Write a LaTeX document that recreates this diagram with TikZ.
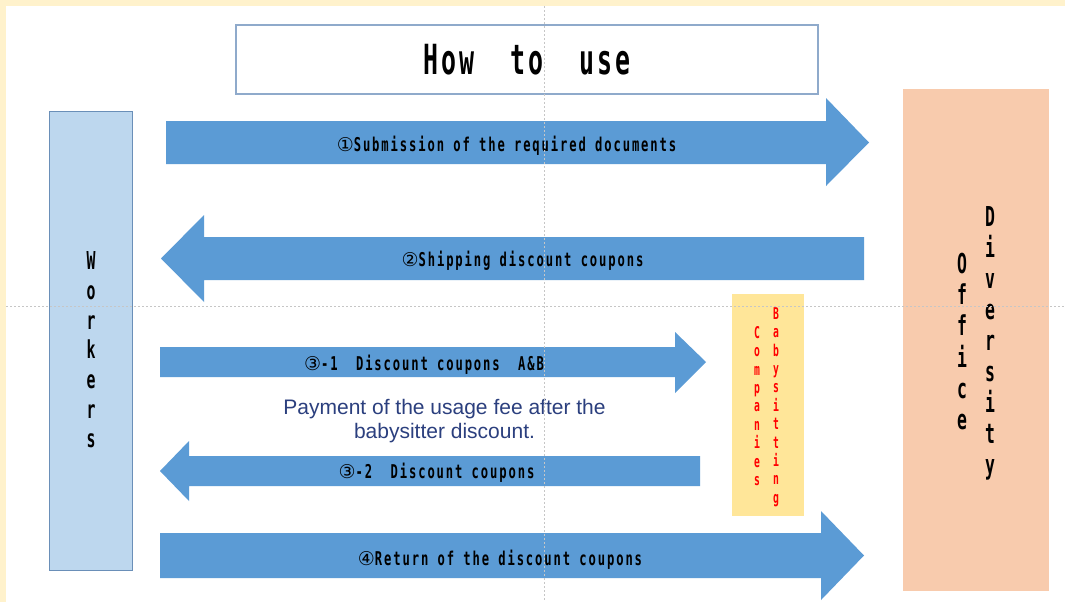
\documentclass[tikz,border=0pt]{standalone}
\usepackage{fontspec}
\usepackage{tikz}
\usetikzlibrary{positioning}

\newfontfamily\monocond[FakeStretch=0.64,LetterSpace=10]{DejaVu Sans Mono}
\newfontfamily\monotitle[FakeStretch=0.6,LetterSpace=7]{DejaVu Sans Mono}
\newfontfamily\monotall[FakeStretch=0.6]{DejaVu Sans Mono}
\newfontfamily\circfont{DejaVu Sans}
\newfontfamily\notefont{Liberation Sans}

\definecolor{cream}{HTML}{FFF2CC}
\definecolor{arrowblue}{HTML}{5B9BD5}
\definecolor{workerfill}{HTML}{BDD7EE}
\definecolor{workerline}{HTML}{6A8FB8}
\definecolor{titleline}{HTML}{8FAACB}
\definecolor{officefill}{HTML}{F8CBAD}
\definecolor{sitterfill}{HTML}{FFE699}
\definecolor{notenavy}{HTML}{2B3F7E}

\newcommand{\cnum}[1]{{\circfont\mdseries #1}}

\begin{document}
\begin{tikzpicture}[x=1pt,y=-1pt]
        \tikzstyle{every node}=[inner sep=0pt,outer sep=0pt]
        \tikzstyle{block}=[fill=arrowblue]
        \tikzstyle{arrow text}=[anchor=base,font=\monocond\bfseries\fontsize{19}{22}\selectfont]
        \tikzstyle{tall text}=[align=center,font=\monotall\bfseries\fontsize{27.4}{31.2}\selectfont]
        \tikzstyle{small tall}=[align=center,text=red,font=\monotall\bfseries\fontsize{16.2}{18.4}\selectfont]
        \tikzstyle{guide}=[gray!45,line width=0.7pt,dash pattern=on 2pt off 2pt]

        \useasboundingbox (0,0) rectangle (1065,602);
        \fill[cream] (0,0) rectangle (1065,602);
        \fill[white] (6,6) rectangle (1065,602);

        % title
        \node[draw=titleline,line width=1.1pt,minimum width=582pt,minimum height=69pt,
              font=\monotitle\bfseries\fontsize{41.5}{45}\selectfont] (title) at (527,59.5) {How\ \ to\ \ use};

        % the three parties
        \node[draw=workerline,line width=0.9pt,fill=workerfill,minimum width=83pt,minimum height=459pt] (workers) at (90.5,340.5) {};
        \node[fill=officefill,minimum width=146pt,minimum height=502pt] (office) at (976,340) {};
        \node[fill=sitterfill,minimum width=72pt,minimum height=222pt] (sitter) at (768,405) {};

        \node[tall text,font=\monotall\bfseries\fontsize{24.7}{29.7}\selectfont] (workerslbl) at (91,350) {W\\o\\r\\k\\e\\r\\s};
        \node[tall text] (officelbl) at (962,341.5) {O\\f\\f\\i\\c\\e};
        \node[tall text,font=\monotall\bfseries\fontsize{27.4}{31}\selectfont] (diversitylbl) at (990,343.7) {D\\i\\v\\e\\r\\s\\i\\t\\y};
        \node[small tall] (companieslbl) at (757,406) {C\\o\\m\\p\\a\\n\\i\\e\\s};
        \node[small tall] (babysittinglbl) at (776,407) {B\\a\\b\\y\\s\\i\\t\\t\\i\\n\\g};

        % arrows
        \fill[block] (166,121) -- (826,121) -- (826,98) -- (869,142.5) -- (826,186) -- (826,164) -- (166,164) -- cycle;
        \fill[block] (864,237) -- (204,237) -- (204,215) -- (161,258.5) -- (204,302) -- (204,280) -- (864,280) -- cycle;
        \fill[block] (160,347) -- (675,347) -- (675,332) -- (706,362) -- (675,393) -- (675,377) -- (160,377) -- cycle;
        \fill[block] (700,456) -- (189,456) -- (189,441) -- (160,471) -- (189,501) -- (189,486) -- (700,486) -- cycle;
        \fill[block] (160,533) -- (821,533) -- (821,511) -- (864,555.5) -- (821,600) -- (821,578) -- (160,578) -- cycle;

        \node[arrow text] (submit) at (506.5,151) {\cnum{①}Submission of the required documents};
        \node[arrow text] (ship) at (522.5,266) {\cnum{②}Shipping discount coupons};
        \node[arrow text] (couponab) at (424,370) {\cnum{③}-1\ \ Discount coupons\ \ A\&B};
        \node[arrow text] (coupon) at (436.5,478) {\cnum{③}-2\ \ Discount coupons};
        \node[arrow text] (giveback) at (500,565) {\cnum{④}Return of the discount coupons};

        \node[align=center,text=notenavy,font=\notefont\fontsize{21}{23.3}\selectfont] (payment) at (444.5,421)
              {Payment of the usage fee after the\\babysitter discount.};

        % guides
        \draw[guide] (544,6) -- (544,602);
        \draw[guide] (6,306) -- (1065,306);
\end{tikzpicture}
\end{document}
